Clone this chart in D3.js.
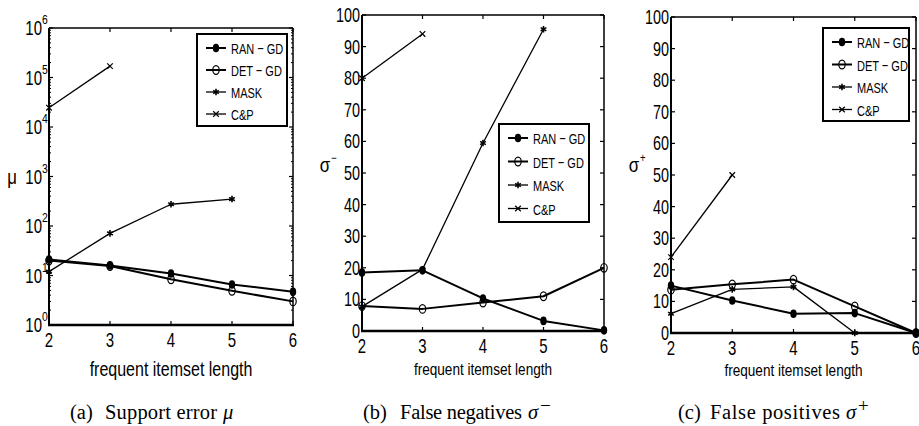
<!DOCTYPE html>
<head>
  <meta charset="utf-8">
  <script src="https://d3js.org/d3.v7.min.js"></script>
  <style>
    body { margin:0; background:#fff; }
    text { font-family: "Liberation Sans", Arial, sans-serif; fill:#000; }
    .cap { font-family: "Liberation Serif", "DejaVu Serif", serif; }
  </style>
</head>
<body>
<script>
var lengths = [2, 3, 4, 5, 6];
var seriesNames = ["RAN − GD", "DET − GD", "MASK", "C&P"];

// (a) support error mu (log scale)
var muRAN  = [21, 16, 11, 6.6, 4.7];
var muDET  = [20, 15.5, 8.4, 4.9, 3.0];
var muMASK = [12, 71, 275, 350, null];
var muCP   = [24500, 170000, null, null, null];

// (b) false negatives sigma-
var negRAN  = [18.5, 19.2, 10.3, 3.2, 0.2];
var negDET  = [7.9, 7.0, 9.0, 11, 20];
var negMASK = [7.7, 19.5, 59.5, 95.5, null];
var negCP   = [80, 94, null, null, null];

// (c) false positives sigma+
var posRAN  = [15, 10.3, 6.1, 6.3, 0];
var posDET  = [13.7, 15.4, 16.9, 8.4, 0];
var posMASK = [6.1, 13.8, 14.6, 0, 0];
var posCP   = [24, 50, null, null, null];

var muTicks = [1, 10, 100, 1000, 10000, 100000, 1000000];
var linTicks = [0, 10, 20, 30, 40, 50, 60, 70, 80, 90, 100];

var W = 919, H = 426;
var svg = d3.select("body").append("svg").attr("width", W).attr("height", H);

var markers = ["dot", "circle", "star", "x"];
var widths = [2, 2, 1.3, 1.3];

// no narrow font installed, so squeeze horizontally
function ntext(g, x, y, size, anchor, k) {
  return g.append("text")
    .attr("transform", "translate(" + x + "," + y + ") scale(" + (k || 0.8) + ",1)")
    .attr("text-anchor", anchor || "start")
    .style("font-size", size + "px");
}

function drawMarker(g, type, x, y) {
  if (type === "dot") {
    g.append("ellipse").attr("cx", x).attr("cy", y).attr("rx", 3.2).attr("ry", 4.3).attr("fill", "#000");
  } else if (type === "circle") {
    g.append("ellipse").attr("cx", x).attr("cy", y).attr("rx", 3.2).attr("ry", 4.3)
      .attr("fill", "none").attr("stroke", "#000").attr("stroke-width", 1.2);
  } else if (type === "star") {
    g.append("path").attr("d", d3.symbol().type(d3.symbolAsterisk).size(30)())
      .attr("transform", "translate(" + x + "," + y + ")")
      .attr("fill", "none").attr("stroke", "#000").attr("stroke-width", 1.6);
  } else {
    g.append("path").attr("d", d3.symbol().type(d3.symbolX).size(22)())
      .attr("transform", "translate(" + x + "," + y + ")")
      .attr("fill", "none").attr("stroke", "#000").attr("stroke-width", 1.2);
  }
}

function panel(cfg) {
  var g = svg.append("g");
  var x = d3.scaleLinear().domain([2, 6]).range([cfg.x0, cfg.x1]);
  var y = (cfg.log ? d3.scaleLog() : d3.scaleLinear()).domain(cfg.domain).range([cfg.y1, cfg.y0]);

  // box
  g.append("line").attr("x1", cfg.x0).attr("x2", cfg.x1).attr("y1", cfg.y0).attr("y2", cfg.y0).attr("stroke", "#000").attr("stroke-width", 1.5);
  g.append("line").attr("x1", cfg.x1).attr("x2", cfg.x1).attr("y1", cfg.y0).attr("y2", cfg.y1).attr("stroke", "#000").attr("stroke-width", 1.5);

  // ticks inward on all sides
  lengths.forEach(function(v) {
    g.append("line").attr("x1", x(v)).attr("x2", x(v)).attr("y1", cfg.y1).attr("y2", cfg.y1 - 4).attr("stroke", "#000").attr("stroke-width", 1.2);
    g.append("line").attr("x1", x(v)).attr("x2", x(v)).attr("y1", cfg.y0).attr("y2", cfg.y0 + 4).attr("stroke", "#000").attr("stroke-width", 1.2);
    ntext(g, x(v), cfg.y1 + 22, 20, "middle", 0.75).text(v);
  });
  cfg.ticks.forEach(function(v) {
    g.append("line").attr("x1", cfg.x0).attr("x2", cfg.x0 + 4).attr("y1", y(v)).attr("y2", y(v)).attr("stroke", "#000").attr("stroke-width", 1.2);
    g.append("line").attr("x1", cfg.x1).attr("x2", cfg.x1 - 4).attr("y1", y(v)).attr("y2", y(v)).attr("stroke", "#000").attr("stroke-width", 1.2);
    if (cfg.log) {
      ntext(g, cfg.x0 - 7, y(v) + 7, 20, "end", 0.75).text("10");
      ntext(g, cfg.x0 - 7, y(v) - 4, 13, "start", 0.8).text(Math.round(Math.log10(v)));
    } else {
      ntext(g, cfg.x0 - 2, y(v) + 7, 20, "end", 0.72).text(v);
    }
  });
  if (cfg.log) {
    // minor ticks
    for (var e = 0; e < 6; e++) {
      for (var m = 2; m < 10; m++) {
        var v = m * Math.pow(10, e);
        g.append("line").attr("x1", cfg.x0).attr("x2", cfg.x0 + 2).attr("y1", y(v)).attr("y2", y(v)).attr("stroke", "#000").attr("stroke-width", 1);
        g.append("line").attr("x1", cfg.x1).attr("x2", cfg.x1 - 2).attr("y1", y(v)).attr("y2", y(v)).attr("stroke", "#000").attr("stroke-width", 1);
      }
    }
  }

  // series
  cfg.data.forEach(function(vals, i) {
    var pts = lengths.map(function(l, j) { return [l, vals[j]]; });
    var line = d3.line().defined(function(d) { return d[1] != null; })
      .x(function(d) { return x(d[0]); }).y(function(d) { return y(d[1]); });
    g.append("path").attr("d", line(pts)).attr("fill", "none").attr("stroke", "#000")
      .attr("stroke-width", widths[i]).attr("stroke-linejoin", "round");
    pts.forEach(function(p) {
      if (p[1] != null) drawMarker(g, markers[i], x(p[0]), y(p[1]));
    });
  });

  // left and bottom axes (thick)
  g.append("line").attr("x1", cfg.x0).attr("x2", cfg.x0).attr("y1", cfg.y0).attr("y2", cfg.y1).attr("stroke", "#000").attr("stroke-width", 2);
  g.append("line").attr("x1", cfg.x0 - 1).attr("x2", cfg.x1 + 1).attr("y1", cfg.y1).attr("y2", cfg.y1).attr("stroke", "#000").attr("stroke-width", 2.5);

  // axis labels
  ntext(g, (cfg.x0 + cfg.x1) / 2, cfg.xlabY, cfg.xlabSize, "middle").text("frequent itemset length");
  ntext(g, cfg.ylabX, cfg.ylabY, 21, "middle").text(cfg.ylab);
  if (cfg.ysup) ntext(g, cfg.ylabX + 6, cfg.ylabY - 10, 12, "start").text(cfg.ysup);

  // legend
  var L = cfg.legend;
  g.append("rect").attr("x", L.x).attr("y", L.y).attr("width", L.w).attr("height", L.h)
    .attr("fill", "#fff").attr("stroke", "#000").attr("stroke-width", 2);
  seriesNames.forEach(function(n, i) {
    var cy = L.y + 14 + i * L.step;
    g.append("line").attr("x1", L.x + 9).attr("x2", L.x + 29).attr("y1", cy).attr("y2", cy)
      .attr("stroke", "#000").attr("stroke-width", widths[i]);
    drawMarker(g, markers[i], L.x + 19, cy);
    ntext(g, L.x + 34, cy + 6, 15.5, "start", 0.71).text(n);
  });

  // caption: "(x)", a wide gap, the words, then the math symbol
  var C = cfg.cap;
  var cap = g.append("g").style("font-size", "20.5px");
  cap.append("text").attr("class", "cap").attr("x", C.x).attr("y", 419).text(C.tag);
  cap.append("text").attr("class", "cap").attr("x", C.x2).attr("y", 419)
    .attr("textLength", C.len).attr("lengthAdjust", "spacing").text(C.words);
  var symX = C.x2 + C.len + 6;
  cap.append("text").attr("class", "cap").attr("x", symX).attr("y", 419)
    .style("font-style", "italic").text(C.sym);
  if (C.sup) cap.append("text").attr("class", "cap").attr("x", symX + 12).attr("y", 412)
    .style("font-size", "19px").text(C.sup);
}

panel({
  x0: 49, x1: 293, y0: 28, y1: 325, log: true, domain: [1, 1e6], ticks: muTicks,
  data: [muRAN, muDET, muMASK, muCP],
  xlabY: 376, xlabSize: 20, ylab: "μ", ylabX: 12, ylabY: 184,
  legend: { x: 197, y: 34, w: 90, h: 92, step: 22 },
  cap: { tag: "(a)", x: 70, x2: 105, words: "Support error", len: 112, sym: "μ" }
});
panel({
  x0: 362, x1: 604, y0: 15, y1: 331, log: false, domain: [0, 100], ticks: linTicks,
  data: [negRAN, negDET, negMASK, negCP],
  xlabY: 375, xlabSize: 17, ylab: "σ", ysup: "−", ylabX: 325, ylabY: 172,
  legend: { x: 499, y: 124, w: 90, h: 98, step: 23.5 },
  cap: { tag: "(b)", x: 363, x2: 400, words: "False negatives", len: 122, sym: "σ", sup: "−" }
});
panel({
  x0: 671, x1: 916, y0: 17, y1: 333, log: false, domain: [0, 100], ticks: linTicks,
  data: [posRAN, posDET, posMASK, posCP],
  xlabY: 376, xlabSize: 17, ylab: "σ", ysup: "+", ylabX: 634, ylabY: 172,
  legend: { x: 823, y: 28, w: 86, h: 93, step: 22.5 },
  cap: { tag: "(c)", x: 678, x2: 710, words: "False positives", len: 130, sym: "σ", sup: "+" }
});
</script>
</body>
